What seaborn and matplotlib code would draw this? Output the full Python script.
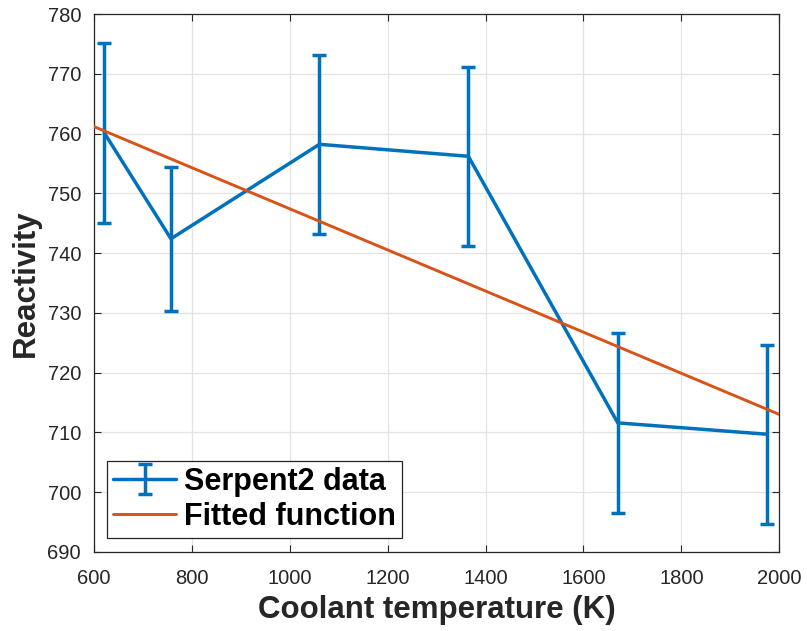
import matplotlib
matplotlib.use("Agg")
import matplotlib.pyplot as plt
import seaborn as sns
import pandas as pd

# Serpent2 reactivity results vs coolant temperature
temperature = [622, 758, 1061, 1365, 1670, 1975]
reactivity = [760.1, 742.4, 758.2, 756.2, 711.6, 709.7]
uncertainty = [15.0, 12.0, 15.0, 15.0, 15.0, 15.0]

# Linear fit evaluated over the axis range
fit_temperature = [600, 2000]
fit_reactivity = [761.2, 713.0]

x_ticks = [600, 800, 1000, 1200, 1400, 1600, 1800, 2000]
y_ticks = [690, 700, 710, 720, 730, 740, 750, 760, 770, 780]

BLUE = "#0072BD"
ORANGE = "#D95319"
DARK = "#262626"

sns.set_theme(style="whitegrid")
plt.rcParams["font.family"] = ["Liberation Sans", "DejaVu Sans"]

data = pd.DataFrame({"T": temperature, "rho": reactivity, "err": uncertainty})
fit = pd.DataFrame({"T": fit_temperature, "rho": fit_reactivity})

fig = plt.figure(figsize=(8.07, 6.31), dpi=100)
ax = fig.add_axes([0.1159, 0.1252, 0.8500, 0.8526])

eb = ax.errorbar(data["T"], data["rho"], yerr=data["err"], fmt="-", color=BLUE,
                 lw=2.5, elinewidth=2.5, capsize=4.7, capthick=2.5,
                 label="Serpent2 data", zorder=3)
sns.lineplot(data=fit, x="T", y="rho", ax=ax, color=ORANGE, lw=2.1,
             label="Fitted function", zorder=4)

ax.set_xlim(600, 2000)
ax.set_ylim(690, 780)
ax.set_xticks(x_ticks)
ax.set_yticks(y_ticks)

ax.set_facecolor("white")
ax.grid(True, color="#e3e3e3", lw=0.9)
for side in ["left", "right", "top", "bottom"]:
    ax.spines[side].set_visible(True)
    ax.spines[side].set_color(DARK)
    ax.spines[side].set_linewidth(0.9)
ax.tick_params(axis="both", which="both", direction="in", length=5, width=0.8,
               color=DARK, labelcolor=DARK, labelsize=14.5,
               top=True, right=True, left=True, bottom=True,
               labeltop=False, labelright=False)
ax.tick_params(axis="x", pad=12)
ax.tick_params(axis="y", pad=9)

ax.set_xlabel("Coolant temperature (K)", fontsize=22.5, fontweight="bold",
              color=DARK, labelpad=5)
ax.set_ylabel("Reactivity", fontsize=22.5, fontweight="bold", color=DARK,
              labelpad=5)

handles, labels = ax.get_legend_handles_labels()
order = [labels.index("Serpent2 data"), labels.index("Fitted function")]
leg = ax.legend([handles[i] for i in order], [labels[i] for i in order],
                loc="lower left", prop={"weight": "bold", "size": 22},
                frameon=True, fancybox=False, edgecolor=DARK, framealpha=1,
                borderpad=0.2, handlelength=2.05, handletextpad=0.25,
                labelspacing=0.18, borderaxespad=0.45)
leg.get_frame().set_linewidth(0.9)
for t in leg.get_texts():
    t.set_color("black")

fig.savefig("out.png", dpi=100)
